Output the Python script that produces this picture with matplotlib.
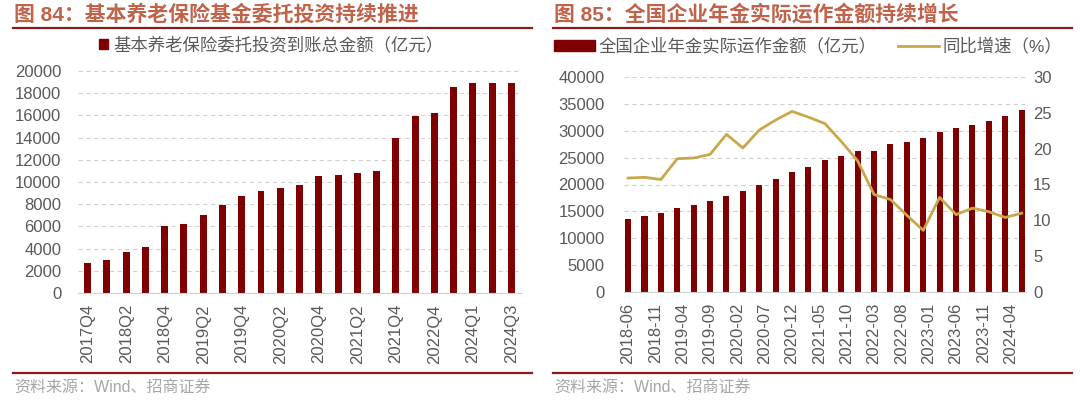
import matplotlib
matplotlib.use("Agg")
import matplotlib.pyplot as plt
from matplotlib.lines import Line2D
from matplotlib.patches import Patch

plt.rcParams['font.family'] = ['Liberation Sans', 'Noto Sans CJK SC']
plt.rcParams['axes.unicode_minus'] = False

# ---- data: left panel ----
quarters = ['2017Q4', '2018Q1', '2018Q2', '2018Q3', '2018Q4', '2019Q1', '2019Q2',
            '2019Q3', '2019Q4', '2020Q1', '2020Q2', '2020Q3', '2020Q4', '2021Q1',
            '2021Q2', '2021Q3', '2021Q4', '2022Q2', '2022Q4', '2023Q4', '2024Q1',
            '2024Q2', '2024Q3']
pension_amount = [2700, 3000, 3650, 4100, 6050, 6250, 7050, 7950, 8700, 9200, 9450,
                  9750, 10500, 10650, 10850, 11000, 14000, 15950, 16200, 18550,
                  18950, 18950, 18950]

# ---- data: right panel ----
months = ['2018-06', '2018-09', '2018-12', '2019-03', '2019-06', '2019-09', '2019-12',
          '2020-03', '2020-06', '2020-09', '2020-12', '2021-03', '2021-06', '2021-09',
          '2021-12', '2022-03', '2022-06', '2022-09', '2022-12', '2023-03', '2023-06',
          '2023-09', '2023-12', '2024-03', '2024-06']
annuity_amount = [13650, 14200, 14700, 15600, 16250, 17000, 17900, 18700, 19900, 20950,
                  22400, 23200, 24500, 25300, 26300, 26300, 27600, 27900, 28600, 29800,
                  30500, 31100, 31800, 32800, 33900]
annuity_yoy = [15.9, 16.0, 15.7, 18.6, 18.7, 19.2, 22.0, 20.1, 22.6, 24.0, 25.2, 24.4,
               23.5, 21.0, 18.3, 13.6, 12.9, 10.7, 8.6, 13.2, 10.8, 11.7, 11.2, 10.4, 11.0]
tick_months = ['2018-06', '2018-11', '2019-04', '2019-09', '2020-02', '2020-07',
               '2020-12', '2021-05', '2021-10', '2022-03', '2022-08', '2023-01',
               '2023-06', '2023-11', '2024-04']

W, H = 1080, 404
BAR = '#7F0000'
GOLD = '#C9A84C'
TITLE_C = '#C0634A'
RULE_C = '#8E1B1B'
TXT = '#595959'
GRID = '#D0D0D0'


def month_index(s):
    y, m = s.split('-')
    return (int(y) - 2018) * 12 + int(m) - 6


def box(left, top, right, bottom):
    return [left / W, 1 - bottom / H, (right - left) / W, (bottom - top) / H]


def rule(fig, x0, x1, y):
    fig.add_artist(Line2D([x0 / W, x1 / W], [1 - y / H, 1 - y / H],
                          transform=fig.transFigure, color=RULE_C, lw=1.6))


def style_axis(ax):
    for s in ['top', 'right', 'left']:
        ax.spines[s].set_visible(False)
    ax.spines['bottom'].set_color('#D0D0D0')
    ax.yaxis.grid(True, linestyle=(0, (4, 3)), color=GRID, lw=0.8)
    ax.set_axisbelow(True)
    ax.tick_params(axis='y', length=0, labelsize=12, labelcolor=TXT, pad=12)
    ax.tick_params(axis='x', length=0, labelsize=12, labelcolor=TXT, pad=8, rotation=90)


fig = plt.figure(figsize=(W / 100, H / 100), dpi=100)

# ---------------- left panel ----------------
fig.text(14 / W, 1 - 14 / H, '图 84：基本养老保险基金委托投资持续推进', fontsize=15,
         fontweight='bold', color=TITLE_C, va='center', ha='left')
rule(fig, 13, 532, 27.5)

ax1 = fig.add_axes(box(78, 71, 522, 293))
x1 = list(range(len(quarters)))
ax1.bar(x1, pension_amount, width=0.36, color=BAR, zorder=2)
ax1.set_xlim(-0.5, len(quarters) - 0.45)
ax1.set_ylim(0, 20000)
ax1.set_yticks(range(0, 20001, 2000))
ax1.set_xticks(x1[::2])
ax1.set_xticklabels(quarters[::2])
style_axis(ax1)
ax1.legend(handles=[Patch(color=BAR, label='基本养老保险委托投资到账总金额（亿元）')],
           loc='center', bbox_to_anchor=(271 / W, 1 - 45 / H),
           bbox_transform=fig.transFigure, frameon=False, fontsize=12.5,
           handlelength=0.55, handleheight=0.55, handletextpad=0.3,
           labelcolor=TXT)

rule(fig, 13, 532, 373.3)
fig.text(14 / W, 1 - 388 / H, '资料来源：Wind、招商证券', fontsize=11.5,
         color='#A6A6A6', va='center', ha='left')

# ---------------- right panel ----------------
fig.text(554 / W, 1 - 14 / H, '图 85：全国企业年金实际运作金额持续增长', fontsize=15,
         fontweight='bold', color=TITLE_C, va='center', ha='left')
rule(fig, 553, 1072, 27.5)

ax2 = fig.add_axes(box(624, 77, 1026, 292))
xm = [month_index(m) for m in months]
ax2.bar(xm, annuity_amount, width=1.1, color=BAR, zorder=2)
ax2.set_xlim(-0.75, 72.8)
ax2.set_ylim(0, 40000)
ax2.set_yticks(range(0, 40001, 5000))
ax2.set_xticks([month_index(m) for m in tick_months])
ax2.set_xticklabels(tick_months)
style_axis(ax2)
ax2.tick_params(axis='y', pad=14)

ax3 = ax2.twinx()
ax3.plot(xm, annuity_yoy, color=GOLD, lw=2, zorder=3)
ax3.set_ylim(0, 30)
ax3.set_yticks(range(0, 31, 5))
for s in ax3.spines.values():
    s.set_visible(False)
ax3.tick_params(axis='y', length=0, labelsize=12, labelcolor=TXT, pad=5)

handles = [Patch(color=BAR, label='全国企业年金实际运作金额（亿元）'),
           Line2D([], [], color=GOLD, lw=2, label='同比增速（%）')]
ax3.legend(handles=handles, loc='center', ncol=2,
           bbox_to_anchor=(808 / W, 1 - 46 / H), bbox_transform=fig.transFigure,
           frameon=False, fontsize=12.5, handlelength=2.4, handleheight=0.6,
           handletextpad=0.2, columnspacing=1.2, labelcolor=TXT)

rule(fig, 553, 1072, 373.3)
fig.text(554 / W, 1 - 388 / H, '资料来源：Wind、招商证券', fontsize=11.5,
         color='#A6A6A6', va='center', ha='left')

fig.savefig('out.png', dpi=100)
